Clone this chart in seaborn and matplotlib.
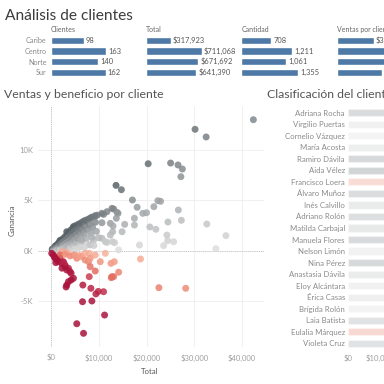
import numpy as np
import pandas as pd
import matplotlib
matplotlib.use("Agg")
import matplotlib.pyplot as plt
from matplotlib.colors import LinearSegmentedColormap, TwoSlopeNorm
import seaborn as sns

# resumen por region
regiones = ["Caribe", "Centro", "Norte", "Sur"]
clientes = [98, 163, 140, 162]
total_region = [317923, 711068, 671692, 641390]
cantidad = [708, 1211, 1061, 1355]
ventas_por_cliente = [3244, 4362, 4798, 3959]

# clasificacion: los 21 clientes con mayor total
top_nombres = ["Adriana Rocha", "Virgilio Puertas", "Cornelio Vázquez", "María Acosta",
               "Ramiro Dávila", "Aida Vélez", "Francisco Loera", "Álvaro Muñoz",
               "Inés Calvillo", "Adriano Rolón", "Matilda Carbajal", "Manuela Flores",
               "Nelson Limón", "Nina Pérez", "Anastasia Dávila", "Eloy Alcántara",
               "Érica Casas", "Brígida Rolón", "Laia Batista", "Eulalia Márquez",
               "Violeta Cruz"]
top_total = [42380, 36630, 34530, 32630, 32490, 30170, 28210, 27510, 27300, 27200, 26670,
             26600, 25680, 25050, 24490, 24420, 24280, 23580, 22950, 22590, 22380]
top_ganancia = [12950, 1470, 180, 2620, 11240, 12000, -3740, 8070, 2990, 7310, 4010,
                8470, 870, 8660, 2820, 970, 1530, 480, 4870, -3680, 4930]

# resto de clientes (total, ganancia)
otros_total = [20350, 13620, 14740, 17050, 18040, 21540, 19220, 20000, 17470, 17470, 15430,
               20700, 21960, 18530, 14880, 12910, 13120, 13830, 11010, 14170, 12910, 13330,
               11720, 10670, 9960, 10670, 12420, 12990, 14040, 13680, 11370, 12420, 8210,
               4700, 6100, 7160, 8210, 9260, 10670, 11720, 12770, 3300, 1890, 900, 250,
               300, 500, 600, 800, 900, 1000, 1100, 1200,
               1300, 1400, 1500, 1600, 1700, 1800, 1900, 2000, 2000,
               2200, 2300, 2400, 2500, 2600, 2700, 2800, 2900, 3000,
               3100, 3200, 3300, 3400, 3500, 3600, 3700, 3800, 3900, 4000,
               4100, 4200, 4300, 4400, 4500, 4600, 4700, 4800, 4900,
               5100, 5200, 5300, 5400, 5500, 5700, 5800, 5900,
               6100, 6200, 6300, 6500, 6600, 6800, 6900,
               7100, 7300, 7400, 7600, 7800, 7900,
               8100, 8300, 8500, 8700, 8900, 9100, 9300, 9500, 9700,
               5000, 7000, 9000, 6400, 8600,
               18740, 14170, 12770, 13120, 12630, 12560, 13260, 9260, 8000, 10320, 7850,
               8210, 11010, 9900, 9400, 8350, 6670, 8560, 6600, 11220, 5400, 6810, 4700,
               4210, 3650, 3300, 3160, 4000, 3650, 2950, 2600, 1890, 840, 490, 2250, 3300,
               4700, 5400, 6460, 7160, 8000, 150, 1540, 2250, 2950, 3300, 1890, 2950, 4000,
               5050, 6000, 7160, 8210, 9260, 11370, 4210, 1200, 700, 1000, 2600, 2300]
otros_ganancia = [8590, 6450, 6020, 5000, 4280, 4340, 3680, 3740, 3190, 2520, 2590,
                  2330, 2100, 540, 1860, 1860, 4110, 3780, 3580, 60, 870, 770,
                  810, 1210, 1270, 2750, 2690, 2430, 3680, 3190, 870, 1530, 550,
                  2360, 2590, 2920, 3190, 3450, 3680, 3840, 4170, 1860, 1000, 450, 120,
                  120, 200, 80, 350, 150, 420, 250, 60,
                  600, 350, 150, 750, 480, 250, 900, 620, 80,
                  1050, 750, 420, 200, 1200, 900, 600, 300, 1400,
                  1050, 750, 450, 1600, 1250, 900, 550, 1800, 1400, 200,
                  1050, 2050, 1700, 700, 1300, 2200, 400, 1900, 1000,
                  2450, 1550, 700, 2100, 1200, 2600, 1800, 300,
                  2250, 1400, 2750, 900, 2000, 2900, 1600,
                  2450, 3000, 1200, 2100, 3100, 600,
                  2600, 1700, 3300, 2300, 1000, 3350, 2800, 1900, 3500,
                  150, 300, 500, 1100, 1300,
                  -840, -2150, -2590, -2590, -2690, -1270, -1110, -2030, -2590, -1110, -1110,
                  -1600, -4080, -4050, -4300, -3740, -3420, -5000, -5070, -6390, -7250, -8200,
                  -2750, -2920, -3090, -3420, -3610, -2100, -1760, -1440, -1110, -770, -770,
                  -450, -120, -180, -450, -770, -610, -940, -280, -280, -1110, -1270, -1600,
                  -1930, -450, -380, -540, -450, -500, -280, -770, -450, -280, -2260, -900,
                  -600, -1200, -1200, -1750]

total = top_total + otros_total
ganancia = top_ganancia + otros_ganancia

sns.set_theme(style="white")
plt.rcParams["font.family"] = ["Lato", "DejaVu Sans"]

W = H = 384
fig = plt.figure(figsize=(3.84, 3.84), dpi=100)
fig.patch.set_facecolor("white")


def caja(l, t, r, b):
    # axes desde coordenadas en pixeles (origen arriba a la izquierda)
    ax = fig.add_axes([l / W, 1 - b / H, (r - l) / W, (b - t) / H])
    ax.set_facecolor("none")
    return ax


def texto(x, y, s, **kw):
    fig.text(x / W, 1 - y / H, s, **kw)


# colores: razon de ganancia, divergente rojo - gris
cmap = LinearSegmentedColormap.from_list("rojo_gris", [
    (0.0, "#a8123c"), (0.2, "#c42e4b"), (0.30, "#e06458"), (0.42, "#f29a84"),
    (0.499, "#f8b9a5"), (0.501, "#dedede"), (0.6, "#bfc1c2"), (0.8, "#858b8f"),
    (1.0, "#525c61")])
norm = TwoSlopeNorm(vmin=-0.6, vcenter=0, vmax=0.5)

texto(5, 20, "Análisis de clientes", fontsize=11.2, color="#3c3c3c", va="baseline")

# barras de resumen
azul = "#4e79a7"
paneles = [("Clientes", clientes, 50.7, 0.339, "{:,.0f}"),
           ("Total", total_region, 145.7, 7.86e-5, "${:,.0f}"),
           ("Cantidad", cantidad, 241.3, 0.0420, "{:,.0f}"),
           ("Ventas por cliente", ventas_por_cliente, 336.7, 0.0115, "${:,.0f}")]
for i, (nombre, valores, izq, escala, fmt) in enumerate(paneles):
    ax = caja(izq, 35, izq + 90, 77.7)
    df = pd.DataFrame({"region": regiones, "valor": valores})
    sns.barplot(data=df, x="valor", y="region", color=azul, saturation=1,
                width=0.66, ax=ax)
    ax.set_xlim(0, 90 / escala)
    ax.bar_label(ax.containers[0], labels=[fmt.format(v) for v in valores],
                 padding=1.5, fontsize=5.4, color="#555555")
    ax.set_xlabel("")
    ax.set_ylabel("")
    ax.set_xticks([])
    ax.tick_params(axis="y", length=0, pad=3, labelsize=5.2, labelcolor="#8a8a8a")
    if i > 0:
        ax.tick_params(axis="y", labelleft=False)
    sns.despine(ax=ax, left=True, bottom=True)
    texto(izq, 31.7, nombre, fontsize=5.0, color="#666666", va="baseline")

# dispersion ventas / ganancia
texto(4, 97.7, "Ventas y beneficio por cliente", fontsize=8.8, color="#555555",
      va="baseline")
ax = caja(38, 106, 264, 347)
razon = [g / t for g, t in zip(ganancia, total)]
ax.axhline(0, color="#c4c4c4", lw=0.7, ls=(0, (1, 1.2)), zorder=1)
ax.axvline(0, color="#c4c4c4", lw=0.7, ls=(0, (1, 1.2)), zorder=1)
sns.scatterplot(x=total, y=ganancia, hue=razon, palette=cmap, hue_norm=norm, s=25,
                alpha=0.85, linewidth=0, legend=False, ax=ax, zorder=3)
ax.set_xlim(-2723, 44607)
ax.set_ylim(-9554, 14307)
ax.set_xticks([0, 10000, 20000, 30000, 40000])
ax.set_xticklabels(["$0", "$10,000", "$20,000", "$30,000", "$40,000"])
ax.set_yticks([-5000, 0, 5000, 10000])
ax.set_yticklabels(["-5K", "0K", "5K", "10K"])
ax.grid(True, color="#eeeeee", lw=0.6, zorder=0)
ax.set_axisbelow(True)
ax.tick_params(length=0, labelsize=5.5, labelcolor="#a0a0a0")
ax.tick_params(axis="x", pad=5)
ax.tick_params(axis="y", pad=3.5)
sns.despine(ax=ax, left=True, bottom=True)
texto(150, 371, "Total", fontsize=5.6, color="#555555", ha="center", va="center")
texto(12, 220, "Ganancia", fontsize=5.6, color="#555555", ha="center", va="center",
      rotation=90)

# clasificacion del cliente
texto(267, 97.7, "Clasificación del cliente", fontsize=8.8, color="#555555",
      va="baseline")
ax = caja(347.7, 106.9, 460, 349.1)
razon_top = [g / t for g, t in zip(top_ganancia, top_total)]
colores = {n: cmap(norm(r)) for n, r in zip(top_nombres, razon_top)}
df_top = pd.DataFrame({"cliente": top_nombres, "total": top_total})
sns.barplot(data=df_top, x="total", y="cliente", hue="cliente", palette=colores,
            saturation=1, width=0.63, alpha=0.3, legend=False, ax=ax)
ax.set_xlim(0, 35540)
ax.set_xticks([0, 10000, 20000, 30000])
ax.set_xticklabels(["$0", "$10,000", "$20,000", "$30,000"])
ax.set_xlabel("")
ax.set_ylabel("")
ax.tick_params(axis="x", length=0, pad=4, labelsize=5.5, labelcolor="#a0a0a0")
ax.tick_params(axis="y", length=0, pad=2, labelsize=5.6, labelcolor="#8a8a8a")
sns.despine(ax=ax, left=True, bottom=True)

plt.savefig("out.png", dpi=100)
